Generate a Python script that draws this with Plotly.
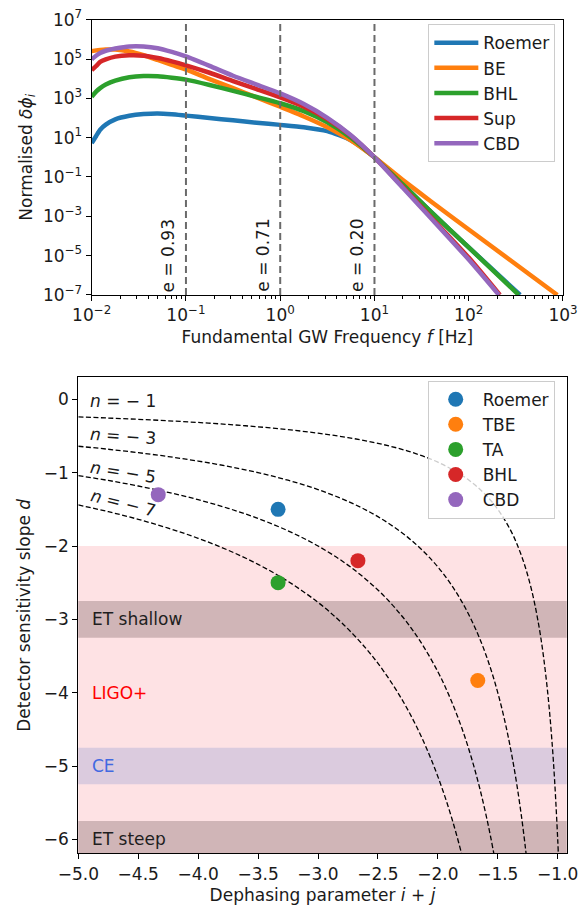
import math
import plotly.graph_objects as go

# ---------------- top panel data ----------------
FREQ = [0.01, 0.0112, 0.0123, 0.0141, 0.0178, 0.0251, 0.0355, 0.0501, 0.0708, 0.1,
        0.178, 0.316, 0.562, 1.0, 1.78, 3.16, 5.62, 10.0, 20.0, 39.8, 100.0]
SERIES_NAMES = ["Roemer", "BE", "BHL", "Sup", "CBD"]
SERIES_COLORS = ["#1f77b4", "#ff7f0e", "#2ca02c", "#d62728", "#9467bd"]
END_FREQ = [351, 871, 339, 214, 209]
ROEMER = [5.25, 12.6, 25.1, 45.7, 85.1, 129, 158, 170, 155, 132,
          100, 75.9, 57.5, 44.7, 33.9, 21.4, 7.41, 1.0, 0.0417, 1.66e-3, 2.63e-5, 1e-7]
BE = [2.51e5, 2.75e5, 2.88e5, 3.02e5, 3.02e5, 2.40e5, 1.55e5, 8.91e4, 5.01e4, 2.95e4,
      9.55e3, 3.31e3, 1.12e3, 372, 120, 33.9, 7.24, 1.0, 0.0708, 5.62e-3, 2.14e-4, 1e-7]
BHL = [1.20e3, 2.24e3, 3.31e3, 5.01e3, 7.94e3, 1.17e4, 1.35e4, 1.32e4, 1.12e4, 8.91e3,
       4.79e3, 2.40e3, 1.17e3, 562, 224, 60.3, 10.0, 1.0, 0.0417, 1.66e-3, 2.63e-5, 1e-7]
SUP = [2.75e4, 4.47e4, 7.08e4, 9.55e4, 1.32e5, 1.55e5, 1.48e5, 1.12e5, 7.59e4, 4.79e4,
       2.0e4, 7.59e3, 2.95e3, 1.12e3, 380, 89.1, 12.6, 1.0, 0.0316, 8.91e-4, 7.94e-6, 1e-7]
CBD = [9.55e4, 1.51e5, 2.0e5, 2.63e5, 3.39e5, 4.37e5, 4.37e5, 3.55e5, 2.29e5, 1.35e5,
       4.47e4, 1.41e4, 5.01e3, 1.78e3, 513, 102, 13.2, 1.0, 0.0282, 7.94e-4, 6.31e-6, 1e-7]
TOP_VALUES = [ROEMER, BE, BHL, SUP, CBD]

E_FREQ = [0.1, 1.0, 10.0]
E_LABELS = ["e = 0.93", "e = 0.71", "e = 0.20"]

TOP_XTICKS = [0.01, 0.1, 1, 10, 100, 1000]
TOP_XTICKTEXT = ["10<sup>−2</sup>", "10<sup>−1</sup>", "10<sup>0</sup>", "10<sup>1</sup>",
                 "10<sup>2</sup>", "10<sup>3</sup>"]
TOP_YTICKS = [1e-7, 1e-5, 1e-3, 1e-1, 1e1, 1e3, 1e5, 1e7]
TOP_YTICKTEXT = ["10<sup>−7</sup>", "10<sup>−5</sup>", "10<sup>−3</sup>", "10<sup>−1</sup>",
                 "10<sup>1</sup>", "10<sup>3</sup>", "10<sup>5</sup>", "10<sup>7</sup>"]

# ---------------- bottom panel data ----------------
N_LABELS = ["<i>n</i> = − 1", "<i>n</i> = − 3", "<i>n</i> = − 5", "<i>n</i> = − 7"]
N_LABEL_X = [-4.625, -4.625, -4.625, -4.625]
N_LABEL_Y = [-0.02, -0.50, -0.99, -1.42]
N_LABEL_ANGLE = [0, 4, 9, 14]

N1_X = [-5.0, -4.75, -4.5, -4.25, -4.0, -3.75, -3.5, -3.25, -3.0, -2.75, -2.5, -2.25, -2.0,
        -1.75, -1.55, -1.4, -1.3, -1.22, -1.16, -1.12, -1.08, -1.05, -1.025, -1.0, -0.99]
N1_Y = [-0.24, -0.2553, -0.2727, -0.2927, -0.3158, -0.3429, -0.375, -0.4138, -0.4615,
        -0.5217, -0.60, -0.7059, -0.8571, -1.0909, -1.3953, -1.7647, -2.1429, -2.5862,
        -3.0612, -3.4884, -4.0541, -4.6154, -5.2174, -6.0, -6.383]
N3_X = [-5.0, -4.75, -4.5, -4.25, -4.0, -3.75, -3.5, -3.25, -3.0, -2.75, -2.5, -2.25,
        -2.05, -1.9, -1.78, -1.68, -1.6, -1.53, -1.47, -1.42, -1.38, -1.34, -1.30, -1.27, -1.25]
N3_Y = [-0.64, -0.6809, -0.7273, -0.7805, -0.8421, -0.9143, -1.0, -1.1034, -1.2308, -1.3913,
        -1.60, -1.8824, -2.1918, -2.50, -2.8169, -3.1496, -3.4783, -3.8278, -4.1885, -4.5455,
        -4.878, -5.2632, -5.7143, -6.1069, -6.40]
N5_X = [-5.0, -4.75, -4.5, -4.25, -4.0, -3.75, -3.5, -3.25, -3.0, -2.75, -2.5, -2.3, -2.15,
        -2.0, -1.9, -1.8, -1.72, -1.65, -1.58, -1.53, -1.5]
N5_Y = [-1.04, -1.1064, -1.1818, -1.2683, -1.3684, -1.4857, -1.625, -1.7931, -2.0, -2.2609,
        -2.60, -2.9545, -3.2911, -3.7143, -4.0625, -4.4828, -4.8872, -5.3061, -5.8036,
        -6.2201, -6.50]
N7_X = [-5.0, -4.75, -4.5, -4.25, -4.0, -3.75, -3.5, -3.25, -3.0, -2.8, -2.6, -2.45, -2.3,
        -2.18, -2.07, -1.97, -1.88, -1.8, -1.77]
N7_Y = [-1.44, -1.5319, -1.6364, -1.7561, -1.8947, -2.0571, -2.25, -2.4828, -2.7692, -3.0508,
        -3.3962, -3.7113, -4.0909, -4.4554, -4.8518, -5.2786, -5.7325, -6.2069, -6.4057]
N_CURVES = [(N1_X, N1_Y), (N3_X, N3_Y), (N5_X, N5_Y), (N7_X, N7_Y)]

PT_NAMES = ["Roemer", "TBE", "TA", "BHL", "CBD"]
PT_X = [-3.333, -1.667, -3.333, -2.667, -4.333]
PT_Y = [-1.5, -3.833, -2.5, -2.2, -1.3]

LIGO_BAND = (-2.0, -7.0)
ET_SHALLOW = (-2.75, -3.25)
CE_BAND = (-4.75, -5.25)
ET_STEEP = (-5.75, -7.0)
BAND_LABELS = ["ET shallow", "LIGO+", "CE", "ET steep"]
BAND_LABEL_Y = [-3.0, -4.0, -5.0, -6.0]
BAND_LABEL_COLORS = ["#1e1e1e", "#ff0000", "#4169e1", "#1e1e1e"]

FONT = "DejaVu Sans"
FS = 17
TXT = "#1a1a1a"

fig = go.Figure()

# ---- top curves
for name, col, vals, fend in zip(SERIES_NAMES, SERIES_COLORS, TOP_VALUES, END_FREQ):
    fig.add_trace(go.Scatter(x=FREQ + [fend], y=vals, mode="lines", name=name,
                             line=dict(color=col, width=4.5, shape="spline", smoothing=0.6),
                             xaxis="x", yaxis="y", legend="legend", legendgroup=name))
for f in E_FREQ:
    fig.add_trace(go.Scatter(x=[f, f], y=[1e-7, 1e7], mode="lines", showlegend=False,
                             line=dict(color="#6a6a6a", width=2, dash="7px,4px"),
                             xaxis="x", yaxis="y", hoverinfo="skip"))

# ---- bottom curves
for cx, cy in N_CURVES:
    fig.add_trace(go.Scatter(x=cx, y=cy, mode="lines", showlegend=False,
                             line=dict(color="black", width=1.3, dash="5px,2.5px",
                                       shape="spline", smoothing=1.0),
                             xaxis="x2", yaxis="y2", hoverinfo="skip"))
for name, col, px_, py_ in zip(PT_NAMES, SERIES_COLORS, PT_X, PT_Y):
    fig.add_trace(go.Scatter(x=[px_], y=[py_], mode="markers", name=name,
                             marker=dict(color=col, size=15),
                             xaxis="x2", yaxis="y2", legend="legend2", legendgroup=name + "_pt"))

shapes = []
for (y0, y1), fill in [(LIGO_BAND, "rgb(254,226,228)"), (ET_SHALLOW, "rgb(208,181,183)"),
                       (CE_BAND, "rgb(219,203,222)"), (ET_STEEP, "rgb(208,181,183)")]:
    shapes.append(dict(type="rect", xref="x2 domain", yref="y2", x0=0, x1=1, y0=y0, y1=y1,
                       fillcolor=fill, line=dict(width=0), layer="below"))

annotations = []
for f, lab in zip(E_FREQ, E_LABELS):
    annotations.append(dict(x=math.log10(f), y=-7, xref="x", yref="y", text=lab, showarrow=False,
                            textangle=-90, xanchor="right", yanchor="bottom", xshift=-5, yshift=1,
                            font=dict(family=FONT, size=FS, color=TXT)))
for lab, lx, ly, ang in zip(N_LABELS, N_LABEL_X, N_LABEL_Y, N_LABEL_ANGLE):
    annotations.append(dict(x=lx, y=ly, xref="x2", yref="y2", text=lab, showarrow=False,
                            textangle=ang, font=dict(family=FONT, size=FS, color=TXT)))
for lab, ly, c in zip(BAND_LABELS, BAND_LABEL_Y, BAND_LABEL_COLORS):
    annotations.append(dict(x=-4.9, y=ly, xref="x2", yref="y2", text=lab, showarrow=False,
                            xanchor="left", yanchor="middle", font=dict(family=FONT, size=FS, color=c)))

axis_common = dict(showline=True, linecolor="black", linewidth=1.2, mirror=True, ticks="outside",
                   ticklen=5, tickwidth=1.1, tickcolor="black", showgrid=False, zeroline=False,
                   automargin=False, tickfont=dict(family=FONT, size=FS, color=TXT))

MINOR_X = [m * 10 ** e for e in range(-2, 3) for m in range(2, 10)]

fig.update_layout(
    width=587, height=907, margin=dict(l=0, r=0, t=0, b=0),
    paper_bgcolor="white", plot_bgcolor="white",
    font=dict(family=FONT, size=FS, color=TXT),
    xaxis=dict(type="log", range=[-2, 3], domain=[0.1562, 0.9591], anchor="y",
               tickmode="array", tickvals=TOP_XTICKS, ticktext=TOP_XTICKTEXT,
               minor=dict(tickmode="array", tickvals=MINOR_X, ticks="outside", ticklen=2.5,
                          tickcolor="black", tickwidth=0.8),
               title=dict(text="Fundamental GW Frequency <i>f</i> [Hz]", standoff=6,
                          font=dict(family=FONT, size=FS, color=TXT)), **axis_common),
    yaxis=dict(type="log", range=[-7, 7], domain=[0.6748, 0.9783], anchor="x",
               tickmode="array", tickvals=TOP_YTICKS, ticktext=TOP_YTICKTEXT,
               title=dict(text="Normalised <i>δϕ<sub>i</sub></i>", standoff=6,
                          font=dict(family=FONT, size=FS, color=TXT)), **axis_common),
    xaxis2=dict(range=[-5, -0.925], domain=[0.1334, 0.9654], anchor="y2",
                tickmode="array", tickvals=[-5, -4.5, -4, -3.5, -3, -2.5, -2, -1.5, -1],
                ticktext=["−5.0", "−4.5", "−4.0", "−3.5", "−3.0", "−2.5", "−2.0", "−1.5", "−1.0"],
                title=dict(text="Dephasing parameter <i>i</i> + <i>j</i>", standoff=6,
                           font=dict(family=FONT, size=FS, color=TXT)), **axis_common),
    yaxis2=dict(range=[-6.19, 0.30], domain=[0.0592, 0.5840], anchor="x2",
                tickmode="array", tickvals=[0, -1, -2, -3, -4, -5, -6],
                ticktext=["0", "−1", "−2", "−3", "−4", "−5", "−6"],
                title=dict(text="Detector sensitivity slope <i>d</i>", standoff=8,
                           font=dict(family=FONT, size=FS, color=TXT)), **axis_common),
    legend=dict(x=0.7297, y=0.9733, xanchor="left", yanchor="top", bgcolor="rgba(255,255,255,0.8)",
                bordercolor="#cccccc", borderwidth=1, font=dict(family=FONT, size=FS, color=TXT),
                tracegroupgap=0, itemwidth=44),
    legend2=dict(x=0.7286, y=0.5803, xanchor="left", yanchor="top", bgcolor="rgba(255,255,255,0.8)",
                 bordercolor="#cccccc", borderwidth=1, font=dict(family=FONT, size=FS, color=TXT),
                 tracegroupgap=0, itemwidth=44),
    shapes=shapes, annotations=annotations, showlegend=True,
)

fig.write_html("out.html")
